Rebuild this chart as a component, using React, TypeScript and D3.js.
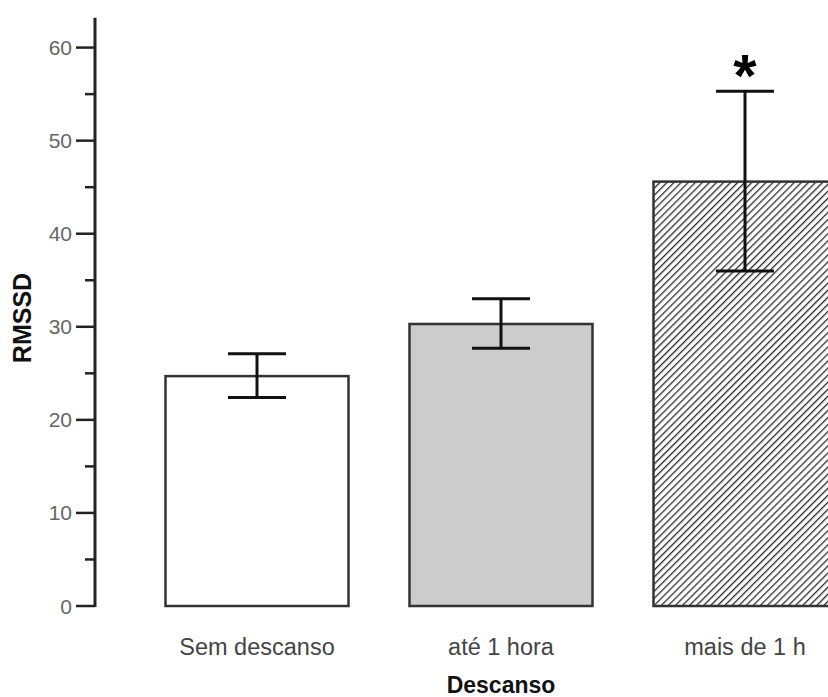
import React, { useEffect, useRef } from 'react';
import * as d3 from 'd3';

const categories = ['Sem descanso', 'até 1 hora', 'mais de 1 h'];
const means = [24.7, 30.3, 45.6];
const errLow = [22.4, 27.7, 36.0];
const errHigh = [27.1, 33.0, 55.3];
const majorTicks = [0, 10, 20, 30, 40, 50, 60];
const minorTicks = [5, 15, 25, 35, 45, 55];
const fills = ['#ffffff', '#cccccc', 'url(#hatch)'];

export default function App() {
  const ref = useRef<SVGSVGElement>(null);

  useEffect(() => {
    const width = 828;
    const height = 697;
    const svg = d3.select(ref.current).attr('width', width).attr('height', height);
    svg.selectAll('*').remove();

    const y = d3.scaleLinear().domain([0, 63.2]).range([606, 17.8]);
    const x = d3
      .scaleBand()
      .domain(categories)
      .range([135, 867])
      .paddingInner(0.25)
      .paddingOuter(0.125);

    // hatch for the third bar
    const defs = svg.append('defs');
    const pat = defs
      .append('pattern')
      .attr('id', 'hatch')
      .attr('patternUnits', 'userSpaceOnUse')
      .attr('width', 5)
      .attr('height', 5)
      .attr('patternTransform', 'rotate(45)');
    pat.append('rect').attr('width', 5).attr('height', 5).attr('fill', '#fff');
    pat
      .append('line')
      .attr('x1', 0)
      .attr('y1', 0)
      .attr('x2', 0)
      .attr('y2', 5)
      .attr('stroke', '#2a2a2a')
      .attr('stroke-width', 2.6);

    // bars
    svg
      .append('g')
      .selectAll('rect')
      .data(categories)
      .enter()
      .append('rect')
      .attr('x', (d) => x(d)!)
      .attr('y', (d, i) => y(means[i]))
      .attr('width', x.bandwidth())
      .attr('height', (d, i) => y(0) - y(means[i]))
      .attr('fill', (d, i) => fills[i])
      .attr('stroke', '#333')
      .attr('stroke-width', 2.5);

    // error bars
    const cap = 29;
    const eb = svg
      .append('g')
      .attr('stroke', '#111')
      .attr('stroke-width', 3)
      .selectAll('g')
      .data(categories)
      .enter()
      .append('g')
      .attr('transform', (d) => 'translate(' + (x(d)! + x.bandwidth() / 2) + ',0)');
    eb.append('line')
      .attr('y1', (d, i) => y(errLow[i]))
      .attr('y2', (d, i) => y(errHigh[i]));
    eb.append('line')
      .attr('x1', -cap)
      .attr('x2', cap)
      .attr('y1', (d, i) => y(errHigh[i]))
      .attr('y2', (d, i) => y(errHigh[i]));
    eb.append('line')
      .attr('x1', -cap)
      .attr('x2', cap)
      .attr('y1', (d, i) => y(errLow[i]))
      .attr('y2', (d, i) => y(errLow[i]));

    // significance mark
    svg
      .append('text')
      .attr('x', x(categories[2])! + x.bandwidth() / 2)
      .attr('y', y(errHigh[2]) - 28)
      .attr('text-anchor', 'middle')
      .attr('font-family', 'Liberation Sans, Arial, sans-serif')
      .attr('font-weight', 'bold')
      .attr('font-size', 60)
      .attr('fill', '#000')
      .attr('dy', '0.55em')
      .text('*');

    // y axis
    const axis = svg.append('g');
    axis
      .append('line')
      .attr('x1', 95)
      .attr('x2', 95)
      .attr('y1', y(63.2))
      .attr('y2', y(0) + 1)
      .attr('stroke', '#222')
      .attr('stroke-width', 3);
    axis
      .selectAll('.major')
      .data(majorTicks)
      .enter()
      .append('line')
      .attr('x1', 76)
      .attr('x2', 95)
      .attr('y1', (d) => y(d))
      .attr('y2', (d) => y(d))
      .attr('stroke', '#222')
      .attr('stroke-width', 2.5);
    axis
      .selectAll('.minor')
      .data(minorTicks)
      .enter()
      .append('line')
      .attr('x1', 85)
      .attr('x2', 95)
      .attr('y1', (d) => y(d))
      .attr('y2', (d) => y(d))
      .attr('stroke', '#222')
      .attr('stroke-width', 2.5);
    axis
      .selectAll('text')
      .data(majorTicks)
      .enter()
      .append('text')
      .attr('x', 72)
      .attr('y', (d) => y(d))
      .attr('dy', '0.36em')
      .attr('text-anchor', 'end')
      .attr('font-family', 'Liberation Sans, Arial, sans-serif')
      .attr('font-size', 21)
      .attr('fill', '#666')
      .text((d) => d);

    // category labels
    svg
      .append('g')
      .selectAll('text')
      .data(categories)
      .enter()
      .append('text')
      .attr('x', (d) => x(d)! + x.bandwidth() / 2)
      .attr('y', 655)
      .attr('text-anchor', 'middle')
      .attr('font-family', 'Liberation Sans, Arial, sans-serif')
      .attr('font-size', 23.5)
      .attr('fill', '#444')
      .text((d) => d);

    // axis titles
    svg
      .append('text')
      .attr('x', x(categories[1])! + x.bandwidth() / 2)
      .attr('y', 693)
      .attr('text-anchor', 'middle')
      .attr('font-family', 'Liberation Sans, Arial, sans-serif')
      .attr('font-weight', 'bold')
      .attr('font-size', 23)
      .attr('fill', '#111')
      .text('Descanso');
    svg
      .append('text')
      .attr('transform', 'translate(31,318) rotate(-90)')
      .attr('text-anchor', 'middle')
      .attr('font-family', 'Liberation Sans, Arial, sans-serif')
      .attr('font-weight', 'bold')
      .attr('font-size', 25)
      .attr('fill', '#111')
      .text('RMSSD');
  }, []);

  return <svg ref={ref} style={{ position: 'absolute', left: 0, top: 0, background: '#fff' }} />;
}
